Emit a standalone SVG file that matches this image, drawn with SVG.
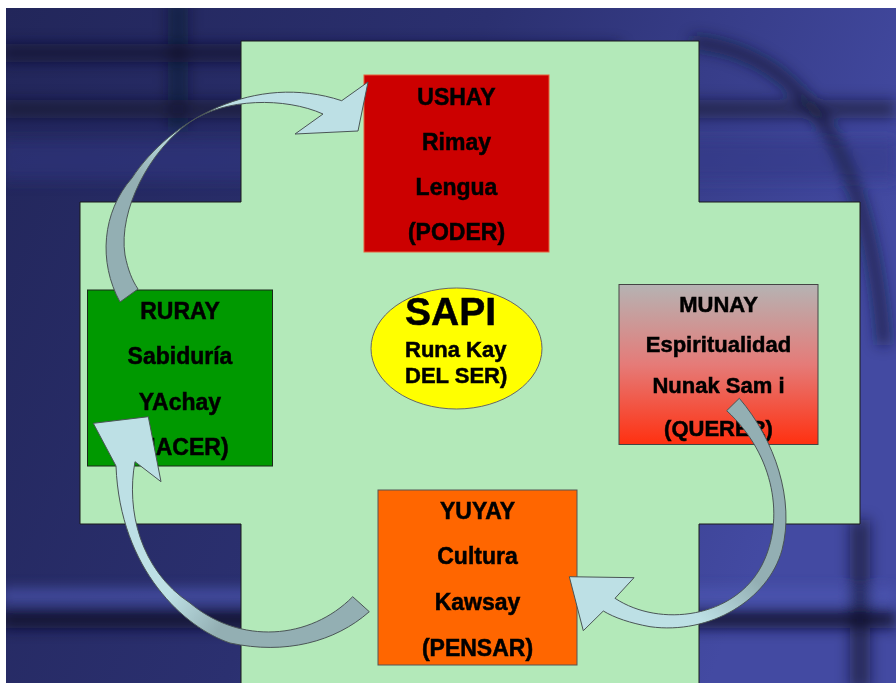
<svg xmlns="http://www.w3.org/2000/svg" width="896" height="683" viewBox="0 0 896 683">
<defs>
<linearGradient id="bgGrad" x1="0" y1="0" x2="1" y2="0.3">
<stop offset="0" stop-color="#22265a"/>
<stop offset="0.5" stop-color="#2b3070"/>
<stop offset="1" stop-color="#434aa2"/>
</linearGradient>
<filter id="blur" x="-20%" y="-20%" width="140%" height="140%"><feGaussianBlur stdDeviation="7"/></filter>
<clipPath id="bgClip"><rect x="6" y="8" width="890" height="675"/></clipPath>
<linearGradient id="munayGrad" x1="0" y1="0" x2="0" y2="1">
<stop offset="0" stop-color="#b5b3b3"/>
<stop offset="0.5" stop-color="#e57b78"/>
<stop offset="1" stop-color="#ff3010"/>
</linearGradient>
<linearGradient id="arr1" gradientUnits="userSpaceOnUse" x1="110" y1="280" x2="330" y2="90">
<stop offset="0" stop-color="#93afb3"/>
<stop offset="0.3" stop-color="#93afb3"/>
<stop offset="0.5" stop-color="#bde0e5"/>
<stop offset="1" stop-color="#bde0e5"/>
</linearGradient>
<linearGradient id="arr2" gradientUnits="userSpaceOnUse" x1="770" y1="420" x2="600" y2="620">
<stop offset="0" stop-color="#93afb3"/>
<stop offset="0.5" stop-color="#93afb3"/>
<stop offset="0.75" stop-color="#bde0e5"/>
<stop offset="1" stop-color="#bde0e5"/>
</linearGradient>
<linearGradient id="arr3" gradientUnits="userSpaceOnUse" x1="360" y1="610" x2="110" y2="440">
<stop offset="0" stop-color="#93afb3"/>
<stop offset="0.35" stop-color="#93afb3"/>
<stop offset="0.55" stop-color="#bde0e5"/>
<stop offset="1" stop-color="#bde0e5"/>
</linearGradient>
</defs>
<style>
.lbl{font-family:"Liberation Sans",Arial,sans-serif;font-weight:bold;fill:#000;stroke:#000;stroke-width:0.5;text-anchor:middle}
.arrow{stroke:#4a5556;stroke-width:1;stroke-linejoin:miter}
</style>

<g id="background">
<rect x="0" y="0" width="896" height="683" fill="#ffffff"/>
<rect x="6" y="8" width="890" height="675" fill="url(#bgGrad)"/>
<g clip-path="url(#bgClip)" filter="url(#blur)">
<rect x="0" y="44" width="620" height="18" fill="#12142c" opacity="0.7"/>
<rect x="0" y="100" width="896" height="18" fill="#12142c" opacity="0.55"/>
<rect x="168" y="0" width="20" height="130" fill="#0e1026" opacity="0.45"/>
<rect x="0" y="590" width="896" height="12" fill="#4c58b4" opacity="0.9"/>
<rect x="0" y="610" width="896" height="18" fill="#0e1128" opacity="0.85"/>
<rect x="0" y="140" width="896" height="40" fill="#343a86" opacity="0.5"/>
<path d="M 692,42 Q 862,58 884,345" fill="none" stroke="#141733" stroke-width="13" opacity="0.7"/>
<rect x="850" y="520" width="20" height="170" fill="#0e1128" opacity="0.6"/>
</g>
</g>

<g id="cross">
<polygon points="241,41 699,41 699,202 860,202 860,524 699,524 699,690 241,690 241,524 80,524 80,202 241,202" fill="#b3e9b9" stroke="#1a1a1a" stroke-width="1"/>
</g>

<g id="ushay">
<rect x="364" y="75" width="185" height="177" fill="#cc0000" stroke="#e8603c" stroke-width="1"/>
<text class="lbl" x="456.5" y="105" font-size="23">USHAY</text>
<text class="lbl" x="456.5" y="150" font-size="23">Rimay</text>
<text class="lbl" x="456.5" y="195" font-size="23">Lengua</text>
<text class="lbl" x="456.5" y="240" font-size="23">(PODER)</text>
</g>

<g id="munay">
<rect x="619" y="284.5" width="199" height="160" fill="url(#munayGrad)" stroke="#444" stroke-width="1"/>
<text class="lbl" x="718.5" y="311.5" font-size="22">MUNAY</text>
<text class="lbl" x="718.5" y="352" font-size="22">Espiritualidad</text>
<text class="lbl" x="718.5" y="393" font-size="22">Nunak Sam i</text>
<text class="lbl" x="718.5" y="436" font-size="22">(QUERER)</text>
</g>

<g id="ruray">
<rect x="87.5" y="290" width="185" height="176" fill="#009900" stroke="#1a2a1a" stroke-width="1"/>
<text class="lbl" x="180" y="319" font-size="23">RURAY</text>
<text class="lbl" x="180" y="364" font-size="23">Sabiduría</text>
<text class="lbl" x="180" y="410" font-size="23">YAchay</text>
<text class="lbl" x="180" y="455" font-size="23">(HACER)</text>
</g>

<g id="yuyay">
<rect x="378" y="490" width="199" height="175" fill="#ff6600" stroke="#555" stroke-width="1"/>
<text class="lbl" x="477.5" y="519" font-size="23">YUYAY</text>
<text class="lbl" x="477.5" y="564" font-size="23">Cultura</text>
<text class="lbl" x="477.5" y="610" font-size="23">Kawsay</text>
<text class="lbl" x="477.5" y="656" font-size="23">(PENSAR)</text>
</g>

<g id="sapi">
<ellipse cx="456.5" cy="348.5" rx="85.5" ry="60.5" fill="#ffff00" stroke="#666" stroke-width="1"/>
<text class="lbl" x="405" y="325" font-size="39" style="text-anchor:start">SAPI</text>
<text class="lbl" x="405" y="357" font-size="22" style="text-anchor:start">Runa Kay</text>
<text class="lbl" x="405" y="383" font-size="22" style="text-anchor:start">DEL SER)</text>
</g>

<g id="connectors">
<path class="arrow" fill="url(#arr1)" d="M120,302 C98,262 102,212 132,178 C170,120 255,72 341.7,100.7 L368,82 L358,131 L295,134 L323,114 C285,97 225,98 190,122 C150,150 118,210 125,255 C128,270 132,280 138,289 Z"/>
<path class="arrow" fill="url(#arr2)" d="M726.7,410.7 L739.3,398.3 C775,440 795,500 782,550 C768,600 710,635 650,626.7 C630,623 615,618 603.3,611 L583.3,630.7 L569.3,576.7 L634,577.7 L615,598.3 C660,628 735,618 762,565 C785,520 775,455 726.7,410.7 Z"/>
<path class="arrow" fill="url(#arr3)" d="M352.7,596.7 L369.3,611.7 C335,642 285,655 230,643 C185,628 120,570 116,466 L93.3,423.3 L148.3,416.7 L161,481.7 L135,461.7 C126,510 140,570 190,603 C240,645 310,640 352.7,596.7 Z"/>
</g>
</svg>
